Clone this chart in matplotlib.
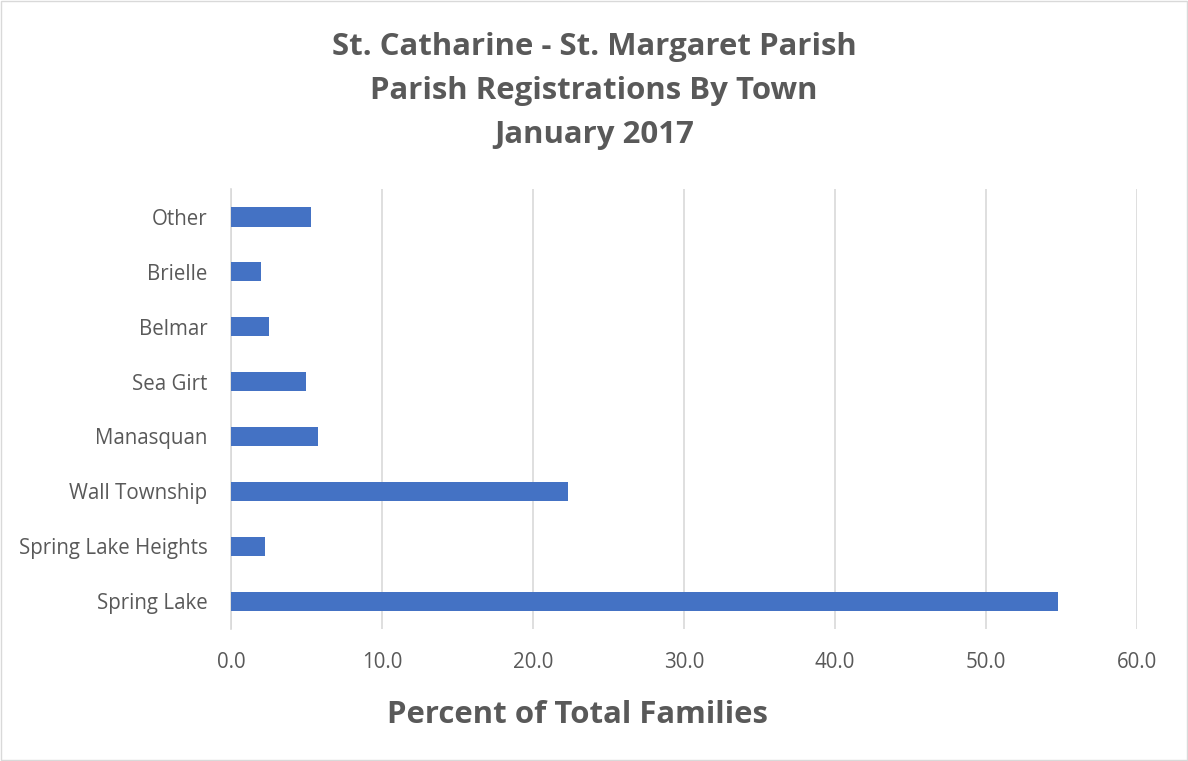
import matplotlib.pyplot as plt
from matplotlib.patches import Rectangle

# dados
cidades = ['Spring Lake', 'Spring Lake Heights', 'Wall Township', 'Manasquan',
           'Sea Girt', 'Belmar', 'Brielle', 'Other']
percentuais = [54.8, 2.25, 22.35, 5.75, 5.0, 2.5, 2.0, 5.3]
ticks_x = [0, 10, 20, 30, 40, 50, 60]
titulo = 'St. Catharine - St. Margaret Parish\nParish Registrations By Town\nJanuary 2017'

cinza = '#595959'
plt.rcParams['font.family'] = ['Open Sans', 'DejaVu Sans']

fig = plt.figure(figsize=(11.88, 7.61), dpi=100)
ax = fig.add_axes([0.1944, 0.174, 0.7626, 0.577])

ax.barh(cidades, percentuais, height=0.35, color='#4472C4', zorder=3)
ax.set_xlim(0, 60)
ax.set_ylim(-0.5, len(cidades) - 0.5)
ax.set_xticks(ticks_x)
ax.set_xticklabels(['%.1f' % t for t in ticks_x])
ax.grid(axis='x', color='#d9d9d9', linewidth=1.2, zorder=0)

for lado in ['top', 'right', 'bottom']:
    ax.spines[lado].set_visible(False)
ax.spines['left'].set_color('#d9d9d9')
ax.spines['left'].set_linewidth(1.2)
ax.tick_params(axis='both', length=0, labelsize=14.8, labelcolor=cinza)
ax.tick_params(axis='x', pad=17)
ax.tick_params(axis='y', pad=17)

# titulo do eixo x centrado como no original
fig.text(0.486, 0.061, 'Percent of Total Families', ha='center', va='center',
         fontsize=22.4, fontweight='bold', color=cinza)
fig.text(0.5, 0.958, titulo, ha='center', va='top', fontsize=22.4,
         fontweight='bold', color=cinza, linespacing=1.62)

# borda da figura
fig.patches.append(Rectangle((0.001, 0.001), 0.998, 0.998, transform=fig.transFigure,
                             fill=False, edgecolor='#d9d9d9', linewidth=1))

fig.savefig('out.png', dpi=100)
